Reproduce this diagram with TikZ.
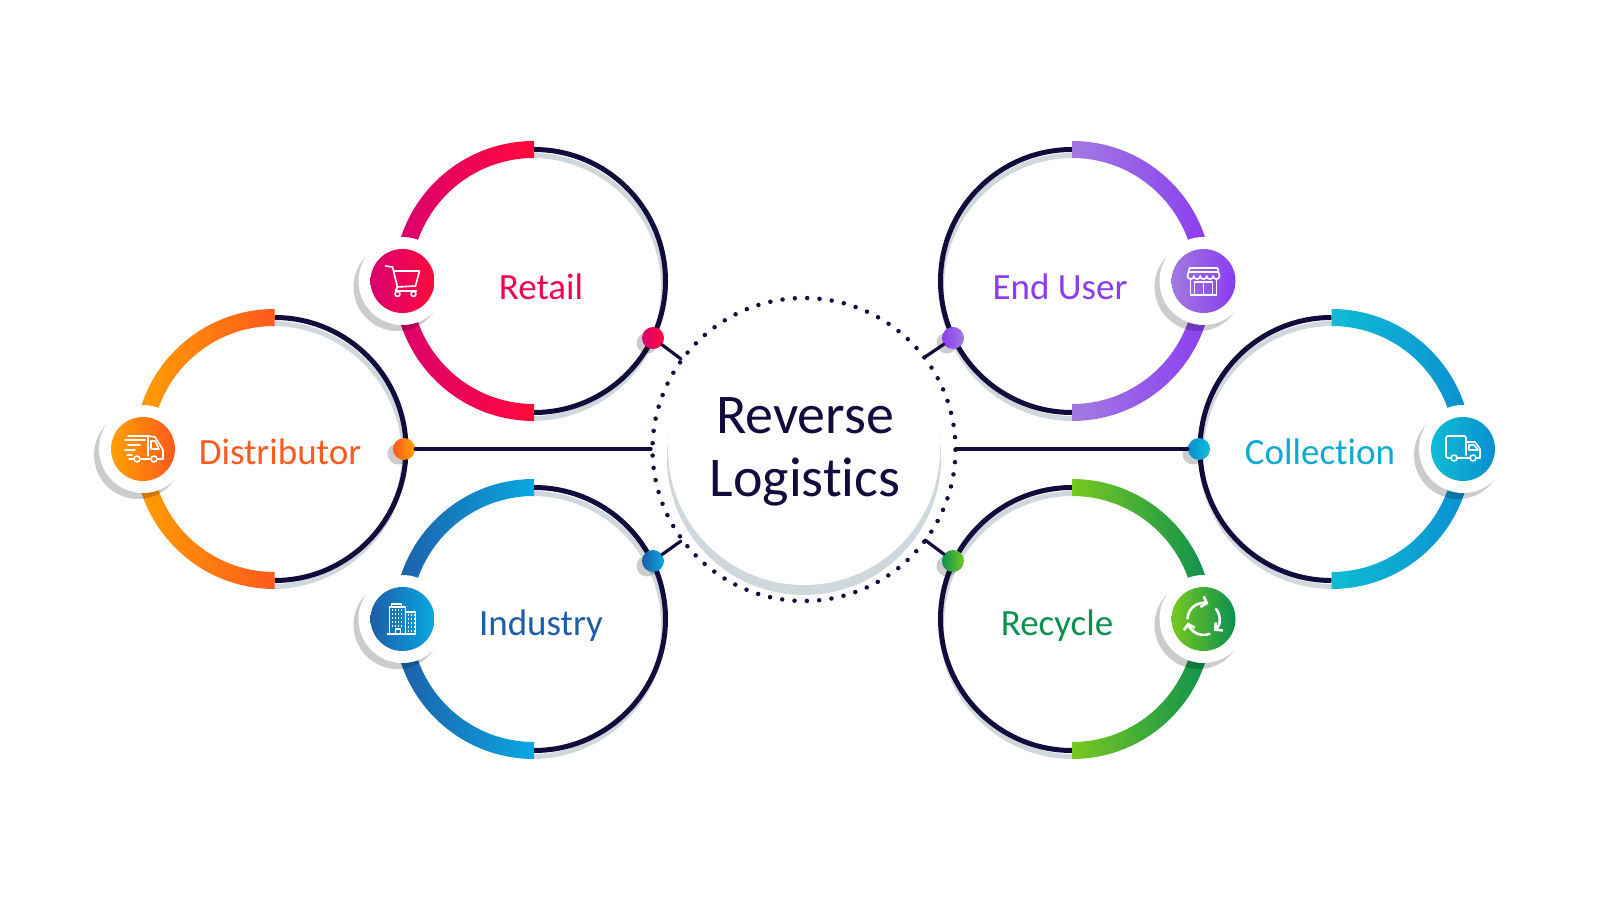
\documentclass[tikz,border=0pt]{standalone}
\usepackage{fontspec}
\setmainfont[RawFeature=-liga]{Carlito}
\usepackage{xcolor}
\usetikzlibrary{calc}
\usetikzlibrary{arrows.meta}
\definecolor{navy}{HTML}{120C3C}
\definecolor{haze}{HTML}{CFD8DC}
\definecolor{retailA}{HTML}{D8006F}
\definecolor{retailB}{HTML}{FF0A3C}
\definecolor{distA}{HTML}{FFA000}
\definecolor{distB}{HTML}{FF5A1F}
\definecolor{indA}{HTML}{1D5EA8}
\definecolor{indB}{HTML}{08A8E0}
\definecolor{userA}{HTML}{A07AE0}
\definecolor{userB}{HTML}{8A3CF0}
\definecolor{collA}{HTML}{10BCD4}
\definecolor{collB}{HTML}{0A8FD0}
\definecolor{recyA}{HTML}{78C820}
\definecolor{recyB}{HTML}{0A9050}
\tikzset{
  ringline/.style={navy, line width=5pt},
  ringshade/.style={haze, line width=5pt},
  iconline/.style={white, line width=1.6pt, line join=round, line cap=round},
  badge/.style={circle, minimum size=64pt, inner sep=0pt},
  portdot/.style={circle, minimum size=22pt, inner sep=0pt},
  label/.style={anchor=base, font=\fontsize{37}{37}\selectfont},
  wire/.style={navy, line width=3.2pt, line cap=round}
}
\newcommand{\leftring}[5]{
\coordinate (#1) at (#2);
\draw[ringshade] ($(#1)+(-2,-6)+(90:131.5)$) arc[start angle=90, end angle=-90, radius=131.5];
\draw[ringline]  ($(#1)+(90:131.5)$) arc[start angle=90, end angle=-90, radius=131.5];
\shade[left color=#3, right color=#4] ($(#1)+(90:140)$) arc[start angle=90, end angle=180, radius=140] -- ($(#1)+(180:123)$) arc[start angle=180, end angle=90, radius=123] -- cycle;
\shade[left color=#3, right color=#4] ($(#1)+(270:140)$) arc[start angle=270, end angle=180, radius=140] -- ($(#1)+(180:123)$) arc[start angle=180, end angle=270, radius=123] -- cycle;
\coordinate (#1spot) at ($(#1)+(-131.5,0)$);
\fill[black, opacity=0.2] ($(#1spot)+(-5,-6)$) circle (44);
\fill[white] (#1spot) circle (44);
\node[badge, left color=#3, right color=#4] at (#1spot) (#1icon) {};
\begin{scope}[shift={(#1spot)}, iconline]
#5
\end{scope}
}
\newcommand{\rightring}[5]{
\coordinate (#1) at (#2);
\draw[ringshade] ($(#1)+(1,-6)+(90:131.5)$) arc[start angle=90, end angle=270, radius=131.5];
\draw[ringline]  ($(#1)+(90:131.5)$) arc[start angle=90, end angle=270, radius=131.5];
\shade[left color=#3, right color=#4] ($(#1)+(90:140)$) arc[start angle=90, end angle=0, radius=140] -- ($(#1)+(0:123)$) arc[start angle=0, end angle=90, radius=123] -- cycle;
\shade[left color=#3, right color=#4] ($(#1)+(270:140)$) arc[start angle=270, end angle=360, radius=140] -- ($(#1)+(0:123)$) arc[start angle=360, end angle=270, radius=123] -- cycle;
\coordinate (#1spot) at ($(#1)+(131.5,0)$);
\fill[black, opacity=0.2] ($(#1spot)+(-5,-6)$) circle (44);
\fill[white] (#1spot) circle (44);
\node[badge, left color=#3, right color=#4] at (#1spot) (#1icon) {};
\begin{scope}[shift={(#1spot)}, iconline]
#5
\end{scope}
}
\newcommand{\ringdot}[4]{
\fill[black, opacity=0.2] ($(#2)+(-6,-5)$) circle (10.5);
\node[portdot, left color=#3, right color=#4] at (#2) (#1) {};
}
\newcommand{\carticon}{
\draw (-17,15) -- (-10,14) -- (-5,-6) -- (13,-5) -- (17,10) -- (-8.8,10);
\draw (-5,-6) -- (-7,-10) -- (14,-10);
\draw (-5,-13) circle (2.5);
\draw (11,-13) circle (2.5);
}
\newcommand{\fasttruckicon}{
\draw (-15,13) -- (5,13) -- (12,12) -- (20,-1) -- (20,-10) -- (14,-10);
\draw (5,13) -- (5,-7);
\draw (8,8) -- (12,8) -- (16,0) -- (8,0) -- cycle;
\draw (-18,9) -- (2,9);
\draw (-15,4) -- (-3,4);
\draw (-18,-1) -- (-8,-1);
\draw (-16,-6) -- (-11,-6);
\draw (-3,-10) -- (8,-10);
\draw (-9,-10) -- (-14,-10);
\draw (-6,-10) circle (3);
\draw (11,-10) circle (3);
}
\newcommand{\storeicon}{
\draw (-14,13) -- (14,13) -- (16,5);
\draw (-14,13) -- (-16,5);
\draw (-14,9) -- (14,9);
\draw (-16,5) arc[start angle=180, end angle=360, radius=3.2] arc[start angle=180, end angle=360, radius=3.2] arc[start angle=180, end angle=360, radius=3.2] arc[start angle=180, end angle=360, radius=3.2] arc[start angle=180, end angle=360, radius=3.2];
\draw (-13,2) -- (-13,-14) -- (13,-14) -- (13,2);
\draw (-9,-14) -- (-9,-1) -- (9,-1) -- (9,-14);
\draw (0,-1) -- (0,-14);
}
\newcommand{\boxtruckicon}{
\draw[rounded corners=2pt] (-12,-9) -- (-17,-9) -- (-17,13) -- (3,13) -- (3,-6);
\draw (3,7) -- (12,7) -- (17,0) -- (17,-9) -- (13,-9);
\draw (6,4) -- (11,4) -- (15,-1) -- (6,-1) -- cycle;
\draw (-6,-9) -- (7,-9);
\draw (-9,-9) circle (3);
\draw (10,-9) circle (3);
}
\newcommand{\towericon}{
\draw (-13,-15) -- (-13,12) -- (3,12) -- (3,-15);
\draw (-11,12) -- (-11,15) -- (-1,15) -- (-1,12);
\draw (3,7) -- (13,7) -- (13,-15) -- (-15,-15);
\draw (-7,-15) -- (-7,-10) -- (-2,-10) -- (-2,-15);
\draw[line cap=butt, dash pattern=on 1.6pt off 1.4pt] (-11,9) -- (1,9);
\draw[line cap=butt, dash pattern=on 1.6pt off 1.4pt] (-11,5) -- (1,5);
\draw[line cap=butt, dash pattern=on 1.6pt off 1.4pt] (-11,1) -- (1,1);
\draw[line cap=butt, dash pattern=on 1.6pt off 1.4pt] (-11,-3) -- (1,-3);
\draw[line cap=butt, dash pattern=on 1.6pt off 1.4pt] (-11,-7) -- (1,-7);
\draw[line cap=butt, dash pattern=on 1.6pt off 1.4pt] (5,4) -- (12,4);
\draw[line cap=butt, dash pattern=on 1.6pt off 1.4pt] (5,0) -- (12,0);
\draw[line cap=butt, dash pattern=on 1.6pt off 1.4pt] (5,-4) -- (12,-4);
\draw[line cap=butt, dash pattern=on 1.6pt off 1.4pt] (5,-8) -- (12,-8);
\draw[line cap=butt, dash pattern=on 1.6pt off 1.4pt] (5,-12) -- (12,-12);
}
\newcommand{\loopicon}{
\draw[line width=2.6pt, -{Straight Barb[length=5pt, width=11pt]}] (178:16) arc[start angle=178, end angle=72, radius=16];
\draw[line width=2.6pt, -{Straight Barb[length=5pt, width=11pt]}] (38:16) arc[start angle=38, end angle=-48, radius=16];
\draw[line width=2.6pt, -{Straight Barb[length=5pt, width=11pt]}] (-68:16) arc[start angle=-68, end angle=-168, radius=16];
}

\begin{document}
\begin{tikzpicture}[x=1pt, y=1pt]
\useasboundingbox (0,0) rectangle (1600,900);
\leftring{retail}{534,619}{retailA}{retailB}{\carticon}
\leftring{distributor}{274.5,451}{distA}{distB}{\fasttruckicon}
\leftring{industry}{534,281}{indA}{indB}{\towericon}
\rightring{enduser}{1072,619}{userA}{userB}{\storeicon}
\rightring{collection}{1331.5,451}{collA}{collB}{\boxtruckicon}
\rightring{recycle}{1072,281}{recyA}{recyB}{\loopicon}

\node[label, text=retailA!40!retailB] at (541,600) (retaillabel) {Retail};
\node[label, text=distB] at (280,435) (distributorlabel) {Distributor};
\node[label, text=indA] at (541,265) (industrylabel) {Industry};
\node[label, text=userB] at (1060,600) (enduserlabel) {End User};
\node[label, text=collA!60!collB] at (1320,435) (collectionlabel) {Collection};
\node[label, text=recyB] at (1057,265) (recyclelabel) {Recycle};

% hub
\fill[haze] (804,442) circle (137);
\fill[white] (804,451) circle (136);
\draw[navy, line width=4.5pt, line cap=round, dash pattern=on 0pt off 12.36pt] (804,450.5) circle (151.5);
\node[align=center, text=navy, font=\fontsize{56}{63}\selectfont] at (805,448) (hub) {Reverse\\Logistics};

\coordinate (portretail) at (681,541);
\coordinate (portuser) at (925,543);
\coordinate (portindustry) at (681,359);
\coordinate (portrecycle) at (925,360);
\coordinate (portdist) at (651,451);
\coordinate (portcoll) at (956,451);

\ringdot{dotretail}{653,562}{retailA}{retailB}
\ringdot{dotuser}{953,562}{userB}{userA}
\ringdot{dotindustry}{653,339}{indA}{indB}
\ringdot{dotrecycle}{953,339}{recyB}{recyA}
\ringdot{dotdist}{404,451}{distB}{distA}
\ringdot{dotcoll}{1199,451}{collB}{collA}

\draw[wire] (dotretail) -- (portretail);
\draw[wire] (dotuser) -- (portuser);
\draw[wire] (dotindustry) -- (portindustry);
\draw[wire] (dotrecycle) -- (portrecycle);
\draw[wire] (dotdist) -- (portdist);
\draw[wire] (dotcoll) -- (portcoll);
\end{tikzpicture}
\end{document}
